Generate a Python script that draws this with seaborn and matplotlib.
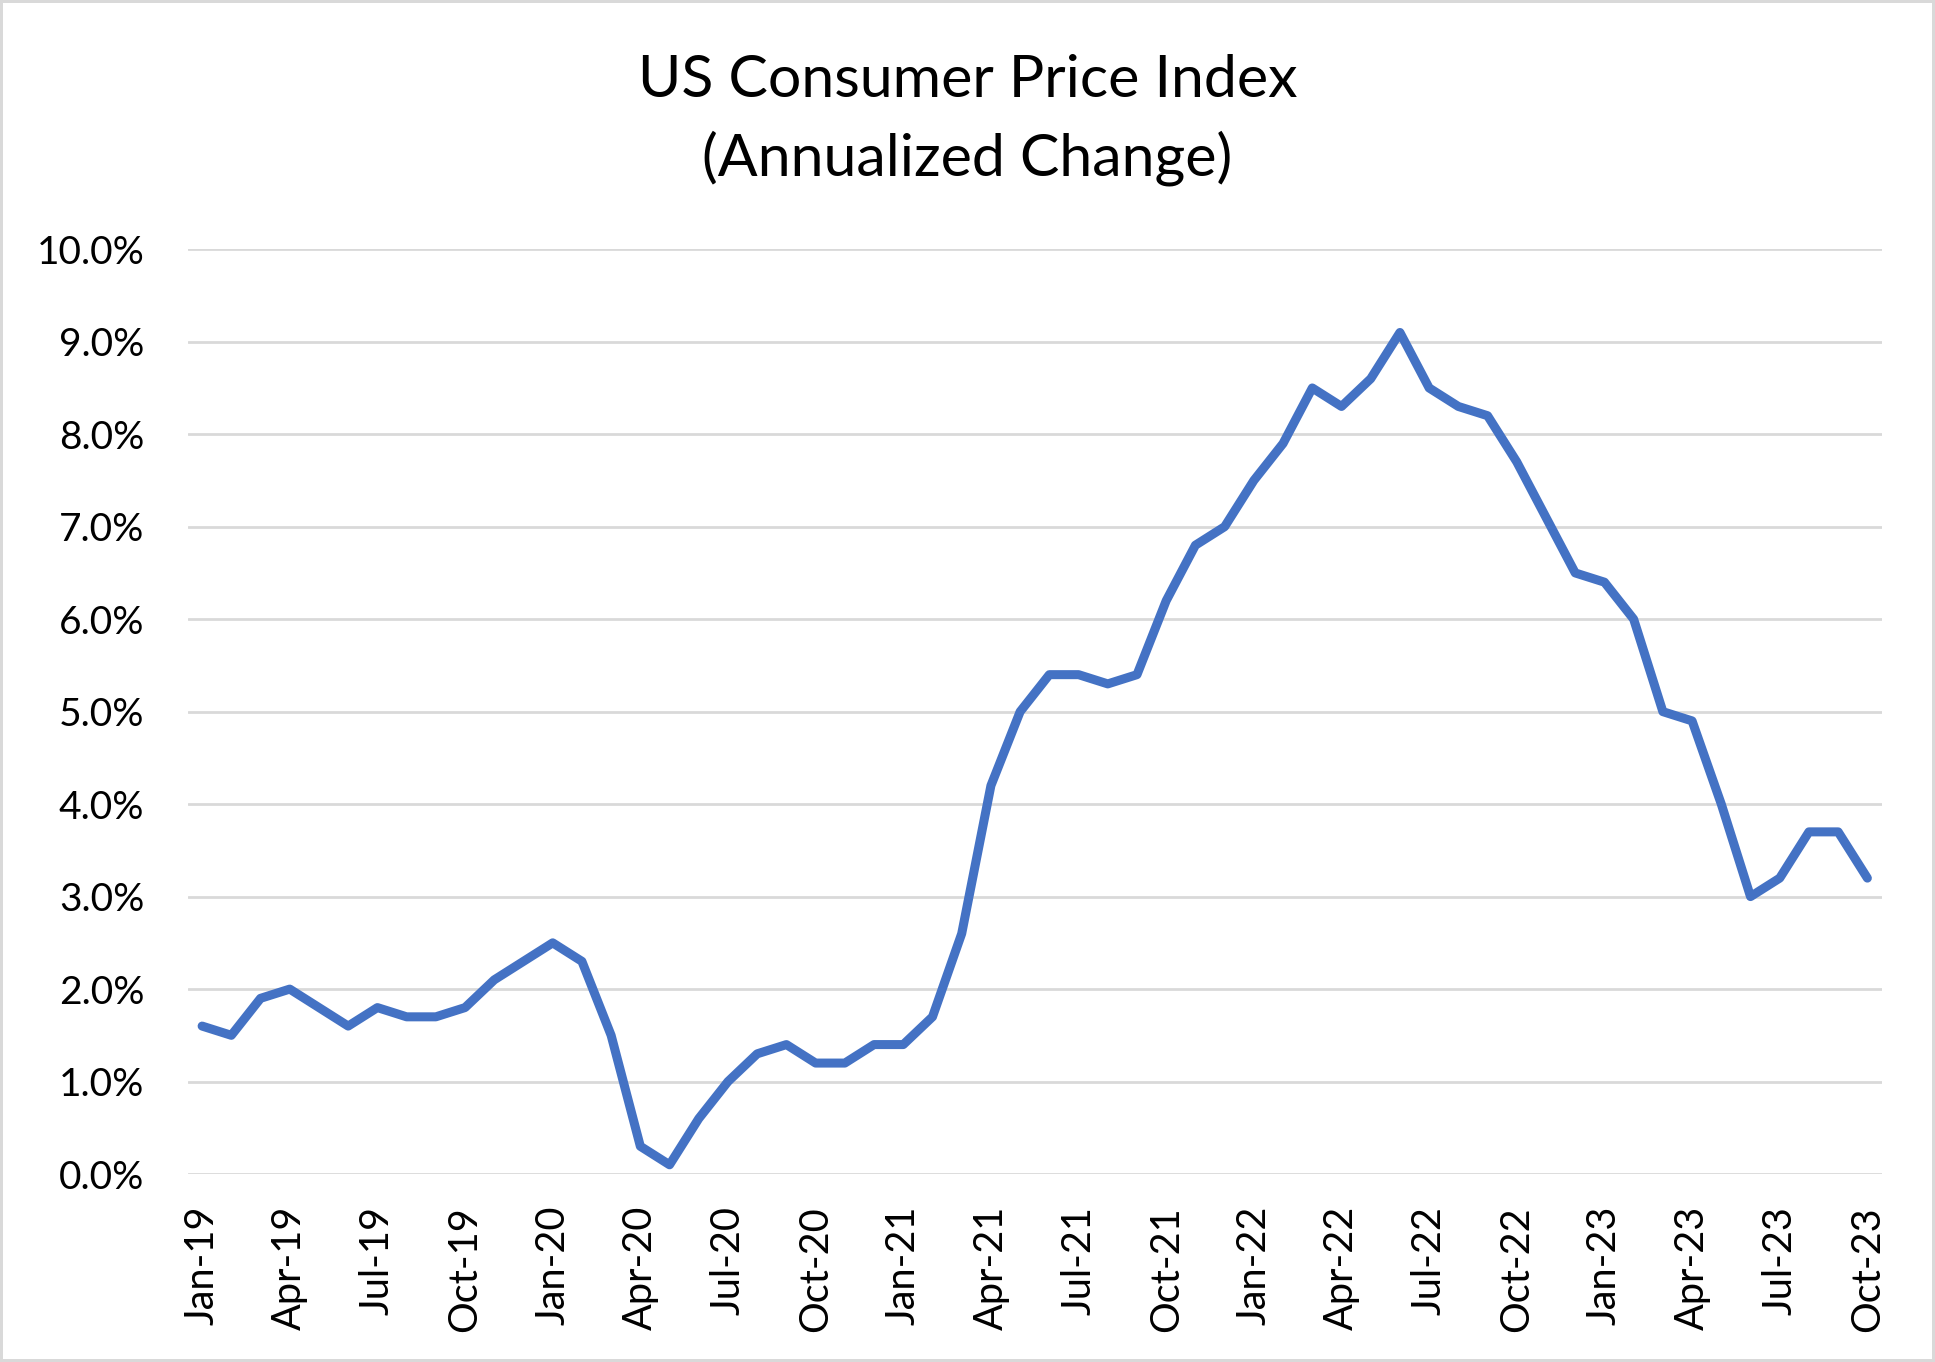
import numpy as np
import pandas as pd
import matplotlib
matplotlib.use("Agg")
import matplotlib.pyplot as plt
import seaborn as sns
from matplotlib.ticker import FuncFormatter

# monthly CPI year-over-year change, Jan-19 .. Oct-23 (percent)
months = pd.date_range("2019-01-01", "2023-10-01", freq="MS")
cpi_2019 = [1.6, 1.5, 1.9, 2.0, 1.8, 1.6, 1.8, 1.7, 1.7, 1.8, 2.1, 2.3]
cpi_2020 = [2.5, 2.3, 1.5, 0.3, 0.1, 0.6, 1.0, 1.3, 1.4, 1.2, 1.2, 1.4]
cpi_2021 = [1.4, 1.7, 2.6, 4.2, 5.0, 5.4, 5.4, 5.3, 5.4, 6.2, 6.8, 7.0]
cpi_2022 = [7.5, 7.9, 8.5, 8.3, 8.6, 9.1, 8.5, 8.3, 8.2, 7.7, 7.1, 6.5]
cpi_2023 = [6.4, 6.0, 5.0, 4.9, 4.0, 3.0, 3.2, 3.7, 3.7, 3.2]
cpi = cpi_2019 + cpi_2020 + cpi_2021 + cpi_2022 + cpi_2023
labels = [m.strftime("%b-%y") for m in months]

df = pd.DataFrame({"pos": np.arange(len(cpi)), "cpi": cpi, "label": labels})

sns.set_theme(style="white")
plt.rcParams["font.family"] = ["Lato", "DejaVu Sans"]

fig = plt.figure(figsize=(19.35, 13.62), dpi=100, edgecolor="#d9d9d9", linewidth=4)
ax = fig.add_axes([0.0969, 0.138, 0.8757, 0.679])

sns.lineplot(data=df, x="pos", y="cpi", color="#4472C4", linewidth=6.5, ax=ax)

ax.set_xlim(-0.5, len(cpi) - 0.5)
ax.set_ylim(0, 10)
ax.set_yticks(np.arange(0, 11, 1))
ax.yaxis.set_major_formatter(FuncFormatter(lambda v, p: f"{v:.1f}%"))
ax.set_xticks(df["pos"][::3])
ax.set_xticklabels(df["label"][::3], rotation=90)
ax.grid(axis="y", color="#d9d9d9", linewidth=2)
ax.set_axisbelow(True)
for s in ax.spines.values():
    s.set_visible(False)
ax.tick_params(axis="y", length=0, pad=31, labelsize=28, labelcolor="black")
ax.tick_params(axis="x", length=0, pad=23, labelsize=28.5, labelcolor="black")
ax.set_xlabel("")
ax.set_ylabel("")

fig.text(0.5, 0.941, "US Consumer Price Index", ha="center", va="center", fontsize=42.5, color="black")
fig.text(0.5, 0.884, "(Annualized Change)", ha="center", va="center", fontsize=42.5, color="black")

fig.savefig("out.png", dpi=100, edgecolor=fig.get_edgecolor())
